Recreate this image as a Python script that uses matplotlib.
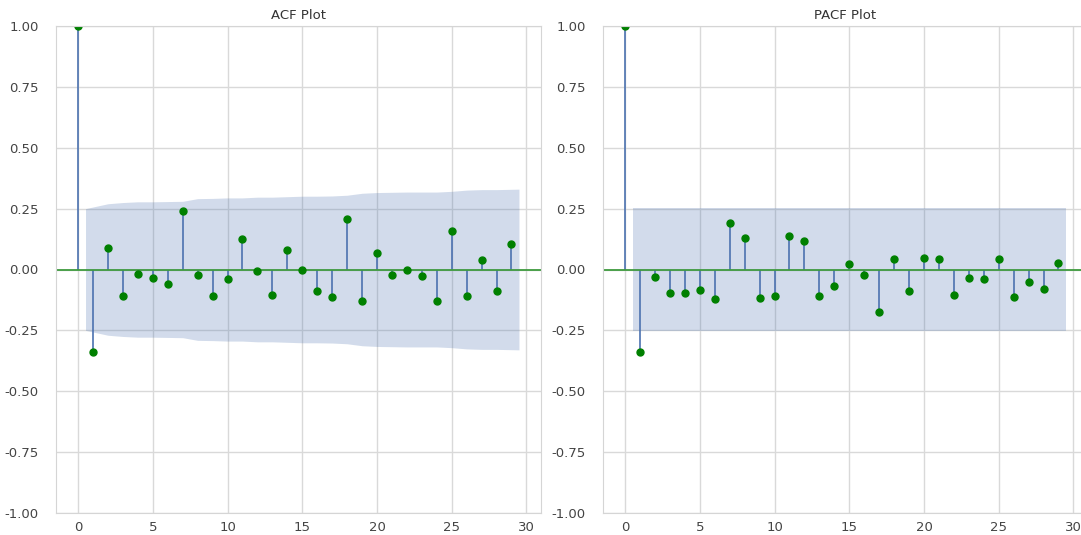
import numpy as np
import matplotlib
matplotlib.use("Agg")
import matplotlib.pyplot as plt
import seaborn as sns

# Values
lags = list(range(30))
acf_vals = [1.0, -0.337, 0.088, -0.107, -0.017, -0.034, -0.058, 0.239, -0.024, -0.109,
            -0.040, 0.125, -0.005, -0.103, 0.081, -0.004, -0.088, -0.112, 0.209, -0.128,
            0.069, -0.024, -0.004, -0.025, -0.128, 0.160, -0.109, 0.038, -0.090, 0.106]
pacf_vals = [1.0, -0.337, -0.031, -0.095, -0.095, -0.083, -0.121, 0.191, 0.128, -0.118,
             -0.110, 0.138, 0.116, -0.110, -0.069, 0.021, -0.024, -0.176, 0.044, -0.088,
             0.047, 0.043, -0.103, -0.036, -0.040, 0.042, -0.112, -0.050, -0.080, 0.028]
# half width of the confidence band for lags 1..29
acf_band = [0.250, 0.270, 0.275, 0.278, 0.278, 0.279, 0.280, 0.291, 0.292, 0.294,
            0.294, 0.297, 0.297, 0.299, 0.301, 0.301, 0.302, 0.305, 0.313, 0.316,
            0.317, 0.318, 0.318, 0.318, 0.321, 0.326, 0.328, 0.328, 0.330]
pacf_band = [0.252] * 29
titles = ["ACF Plot", "PACF Plot"]

sns.set_style("whitegrid")
plt.rcParams['font.family'] = ['DejaVu Sans']

fig = plt.figure(figsize=(10.81, 5.35), dpi=100)
ax1 = fig.add_axes([56 / 1081, 22 / 535, 485 / 1081, 487 / 535])
ax2 = fig.add_axes([603 / 1081, 22 / 535, 485 / 1081, 487 / 535])

stem_color = "#4c72b0"
for ax, vals, band, title in zip([ax1, ax2], [acf_vals, pacf_vals], [acf_band, pacf_band], titles):
    x = np.array(lags, dtype=float)
    # band spans lag 1..29, edges pushed out by half a lag like statsmodels does
    bx = x[1:].copy()
    bx[0] -= 0.5
    bx[-1] += 0.5
    b = np.array(band)
    ax.fill_between(bx, -b, b, color=stem_color, alpha=0.25, linewidth=0)
    ax.vlines(x, 0, vals, color=stem_color, linewidth=1.2)
    ax.axhline(0, color="#3f9a3f", linewidth=1.3)
    ax.plot(x, vals, "o", color="green", markersize=5, linestyle="None")
    ax.set_ylim(-1, 1)
    ax.set_xlim(-1.475, 30.975)
    ax.set_xticks([0, 5, 10, 15, 20, 25, 30])
    ax.set_yticks(np.arange(-1, 1.01, 0.25))
    ax.yaxis.set_major_formatter(matplotlib.ticker.FormatStrFormatter("%.2f"))
    ax.tick_params(axis="y", pad=9, labelsize=9.5, labelcolor="#444444")
    ax.tick_params(axis="x", pad=2, labelsize=9.5, labelcolor="#444444")
    ax.set_title(title, fontsize=9.5, color="#333333", pad=5)
    ax.grid(color="#d9d9d9", linewidth=1)
    for s in ax.spines.values():
        s.set_color("#d5d5d5")

fig.savefig("out.png", dpi=100)
